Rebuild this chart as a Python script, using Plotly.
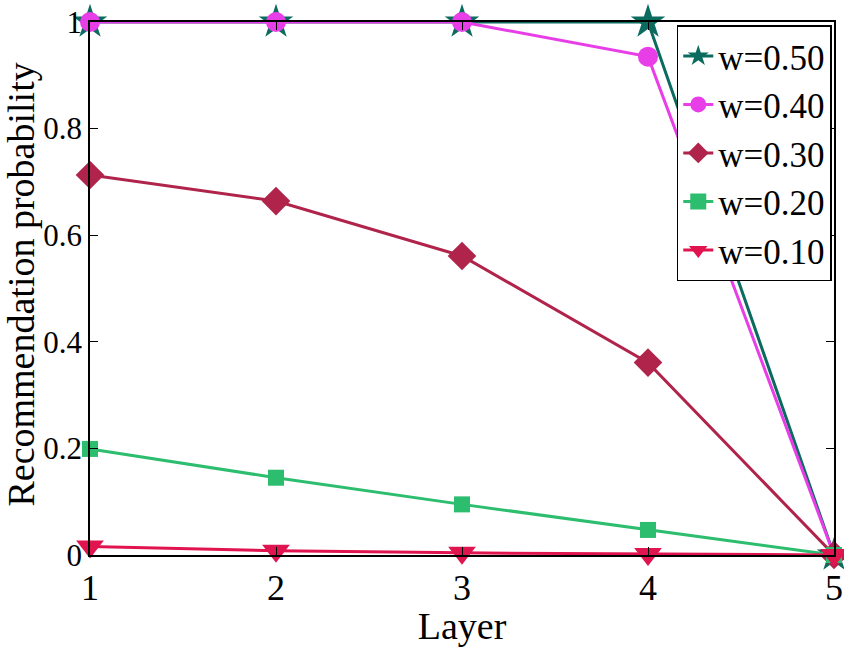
import plotly.graph_objects as go

layers = [1, 2, 3, 4, 5]
series_names = ["w=0.50", "w=0.40", "w=0.30", "w=0.20", "w=0.10"]
w050 = [1.0, 1.0, 1.0, 1.0, 0.0]
w040 = [1.0, 1.0, 1.0, 0.935, 0.0]
w030 = [0.713, 0.664, 0.561, 0.361, 0.0]
w020 = [0.199, 0.145, 0.095, 0.047, 0.0]
w010 = [0.016, 0.008, 0.004, 0.002, 0.0]
y_ticks = [0, 0.2, 0.4, 0.6, 0.8, 1]
y_ticklabels = ["0", "0.2", "0.4", "0.6", "0.8", "1"]

series = [w050, w040, w030, w020, w010]
colors = ["#0b6b5f", "#e83ee8", "#b0244b", "#2dbd6e", "#e0144f"]
symbols = ["star", "circle", "diamond", "square", "triangle-down"]
sizes = [26, 20, 22, 16, 24]

FONT = "Liberation Serif"

fig = go.Figure()
for name, ys, c, s, sz in zip(series_names, series, colors, symbols, sizes):
    fig.add_trace(go.Scatter(
        x=layers, y=ys, name=name, mode="lines+markers",
        line=dict(color=c, width=3),
        marker=dict(symbol=s, size=sz, color=c, line=dict(width=0)),
        cliponaxis=False,
    ))

fig.add_annotation(
    text="Recommendation probability", textangle=-90,
    xref="paper", yref="paper", x=-0.093, y=0.507,
    xanchor="center", yanchor="middle", showarrow=False,
    font=dict(family=FONT, size=38, color="black"),
)

fig.update_layout(
    width=844, height=647,
    margin=dict(l=90, r=10, t=22, b=92, autoexpand=False),
    paper_bgcolor="white", plot_bgcolor="white",
    font=dict(family=FONT, size=32, color="black"),
    showlegend=True,
    legend=dict(
        x=0.997, y=0.994, xanchor="right", yanchor="top",
        bordercolor="black", borderwidth=1.5, bgcolor="white",
        font=dict(family=FONT, size=35),
        itemwidth=30, tracegroupgap=0,
    ),
    xaxis=dict(
        range=[1, 5], tickvals=layers, ticktext=[str(v) for v in layers],
        showline=True, linecolor="black", linewidth=1.5, mirror="ticks",
        ticks="inside", ticklen=8, tickcolor="black",
        showgrid=False, zeroline=False, automargin=False,
        title=dict(text="Layer", standoff=0, font=dict(family=FONT, size=38)),
        tickfont=dict(family=FONT, size=36),
    ),
    yaxis=dict(
        range=[0, 1], tickvals=y_ticks, ticktext=y_ticklabels,
        showline=True, linecolor="black", linewidth=1.5, mirror="ticks",
        ticks="inside", ticklen=8, tickcolor="black",
        showgrid=False, zeroline=False, automargin=False,
        tickfont=dict(family=FONT, size=31),
    ),
)

fig.write_html("out.html")
